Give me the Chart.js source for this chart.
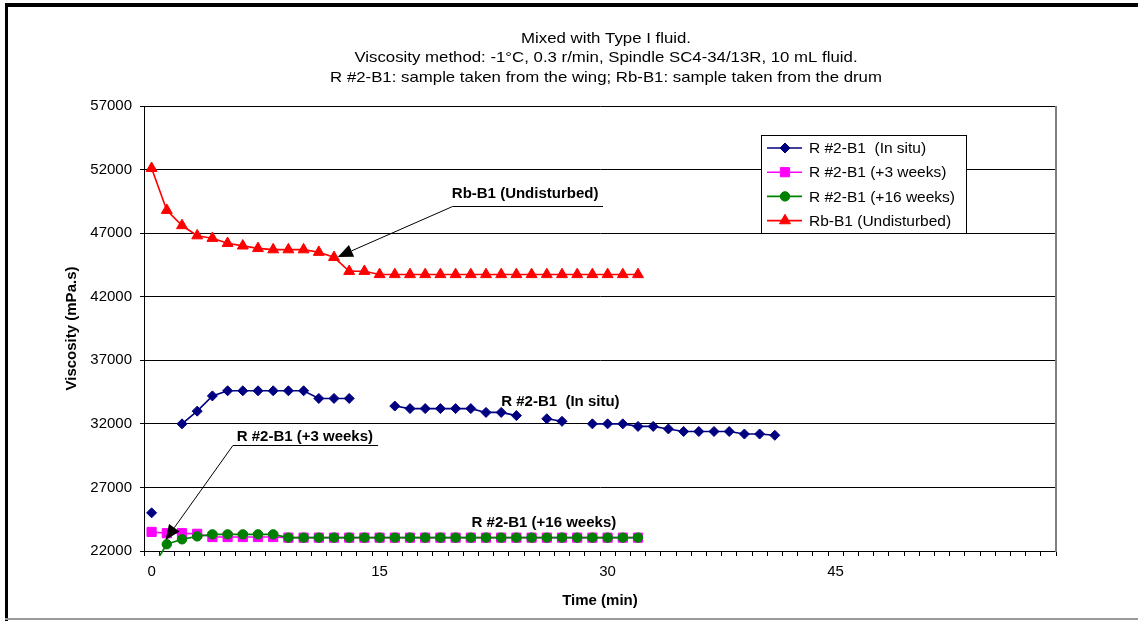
<!DOCTYPE html>
<html><head><meta charset="utf-8">
<script src="https://cdn.jsdelivr.net/npm/chart.js@4.4.1/dist/chart.umd.min.js"></script>
<style>html,body{margin:0;padding:0;background:#fff;}canvas{display:block}</style>
</head><body>
<canvas id="c" width="1138" height="621"></canvas>
<script>
const FONT = '"Liberation Sans", Arial, Helvetica, sans-serif';
const titleLines = [
  'Mixed with Type I fluid.',
  'Viscosity method: -1°C, 0.3 r/min, Spindle SC4-34/13R, 10 mL fluid.',
  'R #2-B1: sample taken from the wing; Rb-B1: sample taken from the drum'
];
const xTitle = 'Time (min)';
const yTitle = 'Viscosity (mPa.s)';
const seriesNames = ['R #2-B1  (In situ)', 'R #2-B1 (+3 weeks)', 'R #2-B1 (+16 weeks)', 'Rb-B1 (Undisturbed)'];
const seriesColors = ['#000080', '#FF00FF', '#008000', '#FF0000'];
const seriesMarkers = ['rectRot', 'rect', 'circle', 'triangle'];

const time = [0,1,2,3,4,5,6,7,8,9,10,11,12,13,14,15,16,17,18,19,20,21,22,23,24,25,26,27,28,29,30,31,32,33,34,35,36,37,38,39,40,41];
const inSitu = [25000,null,32000,33000,34200,34600,34600,34600,34600,34600,34600,34000,34000,34000,null,null,33400,33200,33200,33200,33200,33200,32900,32900,32650,null,32400,32200,null,32000,32000,32000,31800,31800,31600,31400,31400,31400,31400,31200,31200,31100];
const weeks3 = [23500,23400,23400,23350,23100,23100,23100,23100,23100,23050,23050,23050,23050,23050,23050,23050,23050,23050,23050,23050,23050,23050,23050,23050,23050,23050,23050,23050,23050,23050,23050,23050,23050];
const weeks16 = [20600,22530,22920,23150,23310,23310,23310,23310,23310,23050,23050,23050,23050,23050,23050,23050,23050,23050,23050,23050,23050,23050,23050,23050,23050,23050,23050,23050,23050,23050,23050,23050,23050];
const undisturbed = [52100,48800,47600,46800,46600,46200,46000,45800,45700,45700,45700,45500,45100,44000,44000,43750,43750,43750,43750,43750,43750,43750,43750,43750,43750,43750,43750,43750,43750,43750,43750,43750,43750];

const xLabelValues = [0, 15, 30, 45];
const yTickStep = 5000;

// annotations in data coordinates
const annotations = [
  {text: 'Rb-B1 (Undisturbed)', x: 19.75, y: 50090, line: [19.8, 29.7, 49140], arrowTo: [12.25, 45130]},
  {text: 'R #2-B1 (+3 weeks)', x: 5.6, y: 30970, line: [5.35, 14.9, 30340], arrowTo: [0.92, 22870]},
  {text: 'R #2-B1  (In situ)', x: 23.0, y: 33720},
  {text: 'R #2-B1 (+16 weeks)', x: 21.05, y: 24200}
];

function pts(vals){ return vals.map((v,i)=>({x: time[i], y: v})); }
const seriesData = [inSitu, weeks3, weeks16, undisturbed];
const radii = [5, 6.5, 4.7, 6.3];
const orders = [4, 3, 2, 1];

const datasets = seriesData.map((vals, i) => ({
  label: seriesNames[i],
  data: pts(vals),
  borderColor: seriesColors[i],
  backgroundColor: seriesColors[i],
  pointBackgroundColor: seriesColors[i],
  pointBorderColor: seriesColors[i],
  pointBorderWidth: 1,
  pointStyle: seriesMarkers[i],
  pointRadius: radii[i],
  borderWidth: 1.6,
  tension: 0,
  spanGaps: false,
  order: orders[i],
  clip: {left: 0, top: 0, right: 0, bottom: 5}
}));

function drawMarker(ctx, style, x, y, r, color){
  ctx.save();
  ctx.fillStyle = color; ctx.strokeStyle = color; ctx.lineWidth = 1;
  ctx.beginPath();
  if (style === 'rectRot') {
    ctx.moveTo(x - r, y); ctx.lineTo(x, y - r); ctx.lineTo(x + r, y); ctx.lineTo(x, y + r); ctx.closePath();
  } else if (style === 'rect') {
    const s = r * Math.SQRT1_2; ctx.rect(x - s, y - s, 2*s, 2*s);
  } else if (style === 'circle') {
    ctx.arc(x, y, r, 0, Math.PI*2);
  } else if (style === 'triangle') {
    for (let k=0;k<3;k++){ const a = k*2*Math.PI/3; const px = x + Math.sin(a)*r, py = y - Math.cos(a)*r; k?ctx.lineTo(px,py):ctx.moveTo(px,py);} ctx.closePath();
  }
  ctx.fill(); ctx.stroke();
  ctx.restore();
}

const decor = {
  id: 'decor',
  beforeDraw(chart){
    const ctx = chart.ctx;
    ctx.save();
    ctx.fillStyle = '#fff'; ctx.fillRect(0,0,chart.width,chart.height);
    ctx.restore();
  },
  afterDatasetsDraw(chart){
    const ctx = chart.ctx, xs = chart.scales.x, ys = chart.scales.y;
    ctx.save();
    ctx.fillStyle = '#000'; ctx.strokeStyle = '#000'; ctx.lineWidth = 1;
    ctx.font = 'bold 15px ' + FONT; ctx.textBaseline = 'middle'; ctx.textAlign = 'left';
    annotations.forEach(a => {
      ctx.fillText(a.text, xs.getPixelForValue(a.x), ys.getPixelForValue(a.y));
      if (a.line) {
        const x1 = xs.getPixelForValue(a.line[0]), x2 = xs.getPixelForValue(a.line[1]), yl = Math.round(ys.getPixelForValue(a.line[2])) + 0.5;
        ctx.beginPath(); ctx.moveTo(x1, yl); ctx.lineTo(x2, yl); ctx.stroke();
        const tx = xs.getPixelForValue(a.arrowTo[0]), ty = ys.getPixelForValue(a.arrowTo[1]);
        const ang = Math.atan2(ty - yl, tx - x1);
        const L = 15, W = 6.5;
        const bx = tx - Math.cos(ang)*L, by = ty - Math.sin(ang)*L;
        ctx.beginPath(); ctx.moveTo(x1, yl); ctx.lineTo(bx, by); ctx.stroke();
        ctx.beginPath();
        ctx.moveTo(tx, ty);
        ctx.lineTo(bx + Math.sin(ang)*W, by - Math.cos(ang)*W);
        ctx.lineTo(bx - Math.sin(ang)*W, by + Math.cos(ang)*W);
        ctx.closePath(); ctx.fill();
      }
    });
    ctx.restore();
  },
  afterDraw(chart){
    const ctx = chart.ctx, ca = chart.chartArea;
    ctx.save();
    // outer frame
    ctx.fillStyle = '#000';
    ctx.fillRect(5, 3, chart.width - 5, 4);
    ctx.fillRect(5, 3, 3, chart.height - 3);
    ctx.fillStyle = '#9a9a9a';
    ctx.fillRect(5, 618, chart.width - 5, 2);
    // plot area right border
    ctx.fillStyle = '#808080';
    ctx.fillRect(ca.right - 1, ca.top, 2, ca.bottom - ca.top + 1);
    // titles (text in the reference is slightly stretched horizontally)
    ctx.fillStyle = '#000'; ctx.textAlign = 'center'; ctx.textBaseline = 'middle';
    ctx.font = '15px ' + FONT;
    titleLines.forEach((t, i) => {
      ctx.save();
      ctx.translate(606, 39 + i*19.3);
      ctx.scale(1.12, 1);
      ctx.fillText(t, 0, 0);
      ctx.restore();
    });
    ctx.font = 'bold 15px ' + FONT;
    ctx.fillText(xTitle, (ca.left + ca.right)/2, 601);
    ctx.save();
    ctx.translate(72, (ca.top + ca.bottom)/2);
    ctx.rotate(-Math.PI/2);
    ctx.fillText(yTitle, 0, 0);
    ctx.restore();
    // legend
    const L = {left: 761, top: 135, right: 966, bottom: 233};
    ctx.fillStyle = '#fff';
    ctx.fillRect(L.left, L.top, L.right - L.left, L.bottom - L.top);
    ctx.strokeStyle = '#000'; ctx.lineWidth = 1;
    ctx.strokeRect(L.left + 0.5, L.top + 0.5, L.right - L.left, L.bottom - L.top);
    ctx.font = '15.5px ' + FONT; ctx.textAlign = 'left'; ctx.textBaseline = 'middle';
    seriesNames.forEach((n, i) => {
      const y = 148 + i*24.2;
      ctx.strokeStyle = seriesColors[i]; ctx.lineWidth = 1.6;
      ctx.beginPath(); ctx.moveTo(767, y); ctx.lineTo(802, y); ctx.stroke();
      drawMarker(ctx, seriesMarkers[i], 785, y, radii[i], seriesColors[i]);
      ctx.fillStyle = '#000';
      ctx.fillText(n, 809, y + 1);
    });
    ctx.restore();
  }
};

new Chart(document.getElementById('c'), {
  type: 'line',
  data: { datasets },
  plugins: [decor],
  options: {
    responsive: false,
    animation: false,
    devicePixelRatio: 1,
    layout: { padding: { left: 0, right: 82, top: 106, bottom: 0 } },
    plugins: { legend: { display: false }, tooltip: { enabled: false }, title: { display: false } },
    scales: {
      x: {
        type: 'linear', min: -0.5, max: 59.5,
        afterBuildTicks(scale){
          const t = [];
          for (let i = 0; i <= 60; i++) t.push({value: i - 0.5});
          xLabelValues.forEach(v => t.push({value: v}));
          t.sort((a,b) => a.value - b.value);
          scale.ticks = t;
        },
        afterFit(scale){ scale.height = 70; },
        ticks: {
          autoSkip: false, maxRotation: 0, minRotation: 0, padding: 7,
          color: '#000', font: { family: FONT, size: 15 },
          callback: (v) => xLabelValues.includes(v) ? String(v) : ''
        },
        grid: {
          drawOnChartArea: false, drawTicks: true, tickLength: 5, lineWidth: 1,
          tickColor: (c) => (c.tick && Number.isInteger(c.tick.value)) ? 'rgba(0,0,0,0)' : '#000'
        },
        border: { color: '#000', width: 1 }
      },
      y: {
        type: 'linear', min: 22000, max: 57000,
        afterFit(scale){ scale.width = 144; },
        ticks: {
          stepSize: yTickStep, padding: 8, color: '#000', font: { family: FONT, size: 15 },
          callback: (v) => String(v)
        },
        grid: { color: '#000', lineWidth: 1, tickLength: 4, tickColor: '#000' },
        border: { color: '#000', width: 1 }
      }
    }
  }
});
</script>
</body></html>
